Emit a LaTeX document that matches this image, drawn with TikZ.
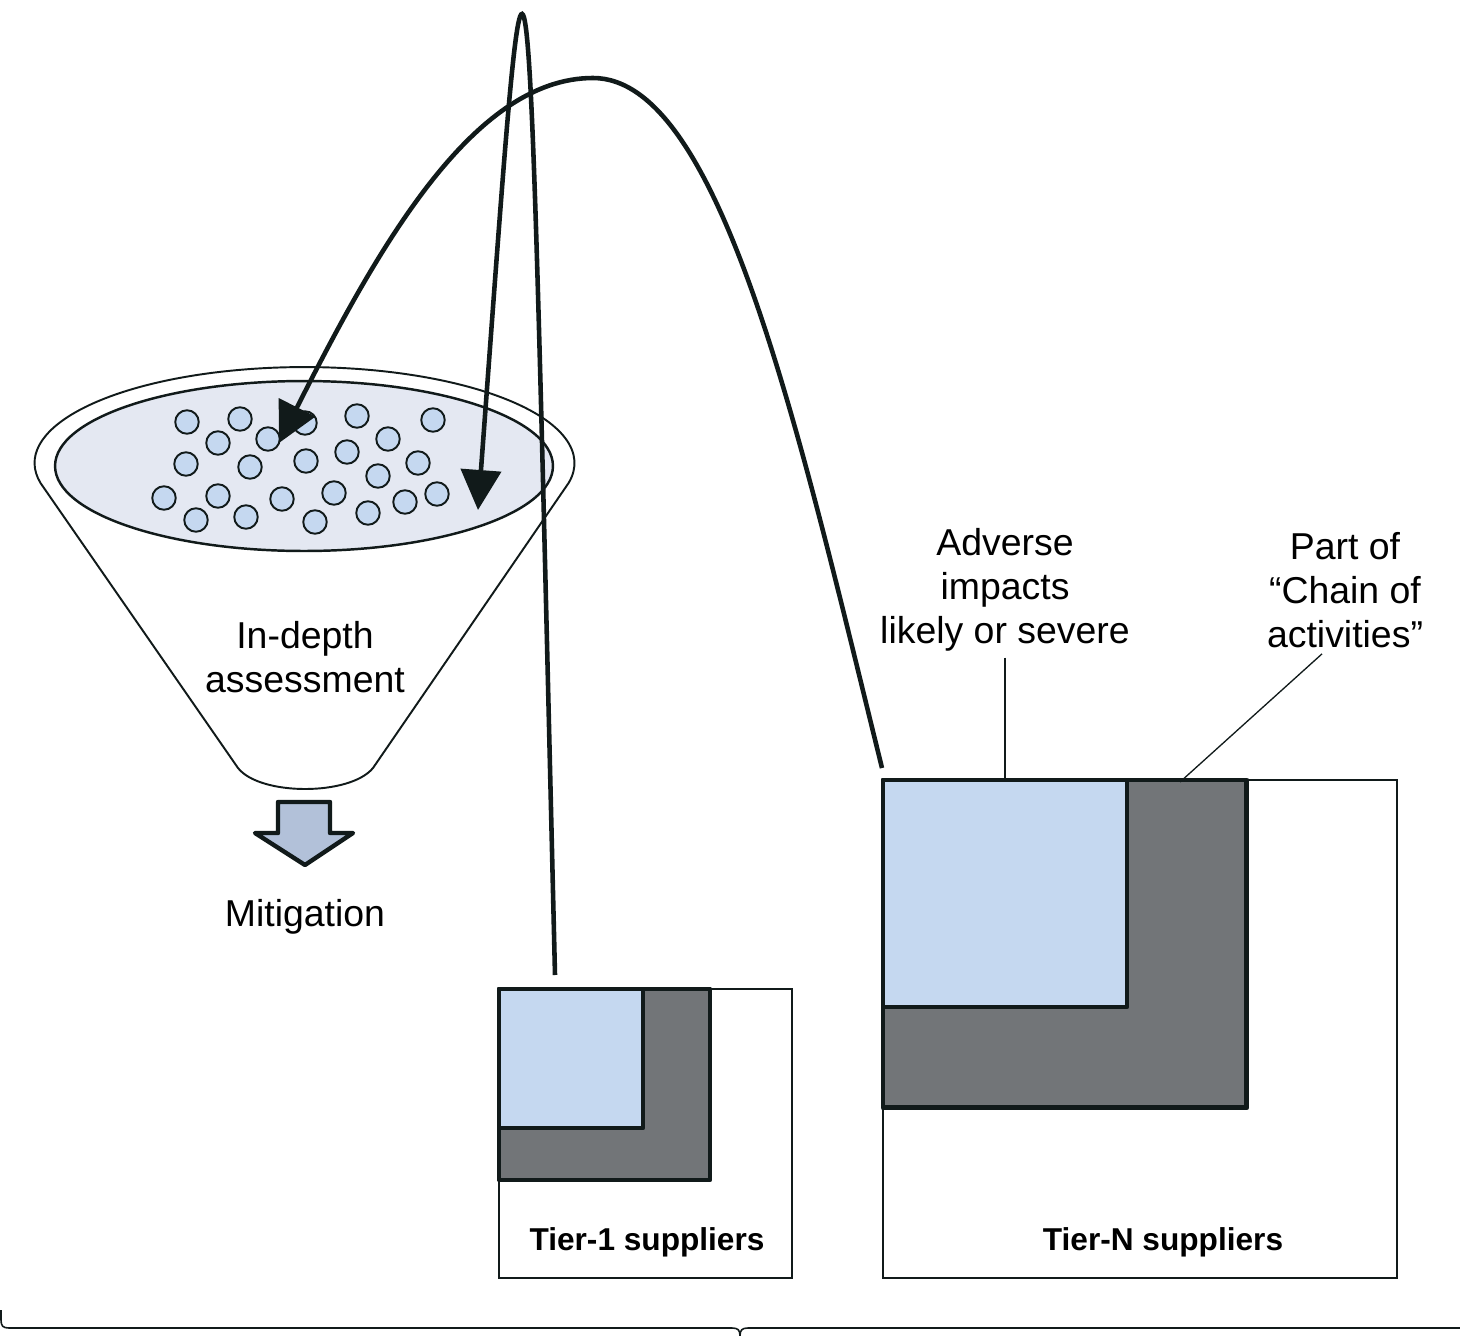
\documentclass[tikz,border=0pt]{standalone}
\usepackage{fontspec}
\setmainfont{Liberation Sans}
\definecolor{mydark}{RGB}{17, 26, 26}
\definecolor{mylightblue}{RGB}{197, 216, 240}
\definecolor{mypaleblue}{RGB}{228, 232, 242}
\definecolor{myarrowblue}{RGB}{178, 193, 217}
\definecolor{mygray}{RGB}{114, 117, 120}
\usetikzlibrary{arrows.meta, calc, positioning}

\tikzset{
	box/.style = {draw = mydark, line width = 0.9pt, fill = white, outer sep = 0pt, inner sep = 0pt, anchor = north west},
	thickbox/.style = {box, line width = 2.8pt, line join = round},
	caption/.style = {align = center, font = \fontsize{21.3}{25}\selectfont, text = black},
	tier/.style = {font = \fontsize{18}{22}\selectfont\bfseries, text = black},
	link/.style = {draw = mydark, line width = 2.6pt, -{Triangle[length = 0.8cm, width = 0.8cm]}},
	leader/.style = {draw = mydark, line width = 0.75pt},
	bead/.style = {draw = mydark, line width = 1.1pt, fill = mylightblue},
}

\begin{document}
\begin{tikzpicture}[x = 0.02cm, y = -0.02cm]
	\useasboundingbox (0, 0) rectangle (1460, 1335);

	\draw[draw = mydark, line width = 1.1pt, fill = white, line join = round]
		(40.5, 483) arc[start angle = 192, end angle = -12, x radius = 5.4cm, y radius = 1.92cm]
		-- (373, 768) .. controls (350, 796) and (260, 796) .. (238, 768) -- cycle;
	\draw[draw = mydark, line width = 1.4pt, fill = mypaleblue] (304, 466) ellipse [x radius = 4.98cm, y radius = 1.7cm];
	\foreach \cx/\cy in {187/422, 240/419, 305/423, 357/416, 433/420, 218/443, 268/439, 388/439,
		186/464, 250/467, 306/461, 347/452, 418/463, 378/476, 164/498, 218/496,
		282/499, 334/493, 405/502, 437/494, 196/520, 246/517, 315/522, 368/513}
		\draw[bead] (\cx, \cy) circle[radius = 0.235cm];

	\node[caption] (depth) at (305, 657) {In-depth\\assessment};
	\draw[draw = mydark, line width = 2.5pt, fill = myarrowblue, line join = round]
		(278, 802) -- (330, 802) -- (330, 833) -- (353, 833) -- (305, 865) -- (255, 833) -- (278, 833) -- cycle;
	\node[caption] (mitigation) at (305, 917) {Mitigation};

	\node[box, minimum width = 5.86cm, minimum height = 5.78cm] (t1box) at (499, 989) {};
	\node[thickbox, fill = mygray, minimum width = 4.22cm, minimum height = 3.82cm] (t1gray) at (499, 989) {};
	\node[thickbox, fill = mylightblue, minimum width = 2.88cm, minimum height = 2.78cm] (t1blue) at (499, 989) {};
	\node[tier] (t1label) at (647, 1242) {Tier-1 suppliers};

	\node[box, minimum width = 10.28cm, minimum height = 9.96cm] (tnbox) at (883, 780) {};
	\node[thickbox, fill = mygray, minimum width = 7.28cm, minimum height = 6.56cm] (tngray) at (883, 780) {};
	\node[thickbox, fill = mylightblue, minimum width = 4.88cm, minimum height = 4.54cm] (tnblue) at (883, 780) {};
	\node[tier] (tnlabel) at (1163, 1242) {Tier-N suppliers};

	\node[caption] (adverse) at (1005, 590) {Adverse\\impacts\\likely or severe};
	\node[caption] (partof) at (1345, 590) {Part of\\“Chain of\\activities”};
	\coordinate (chainpt) at (1180, 782);
	\draw[leader] (adverse.south) -- (adverse.south |- tnblue.north);
	\draw[leader] ([xshift = -0.46cm]partof.south) -- (chainpt);

	\coordinate (loopstart) at (555, 975);
	\coordinate (looptip) at (478, 510);
	\coordinate (arcstart) at (882, 768);
	\coordinate (arcapex) at (593, 78);
	\coordinate (arctip) at (279, 443);
	\draw[link] (loopstart) .. controls (526, -225) and (530, -190) .. (looptip);
	\draw[link] (arcstart) .. controls (798, 428) and (720, 78) .. (arcapex) .. controls (473, 78) and (378, 247) .. (arctip);

	\draw[leader, line width = 0.9pt]
		(1, 1310) -- (1, 1320) .. controls (1, 1326) and (3, 1328) .. (9, 1328) -- (732, 1328)
		.. controls (738, 1328) and (740, 1330) .. (740, 1336)
		.. controls (740, 1330) and (742, 1328) .. (748, 1328) -- (1462, 1328);
\end{tikzpicture}
\end{document}
